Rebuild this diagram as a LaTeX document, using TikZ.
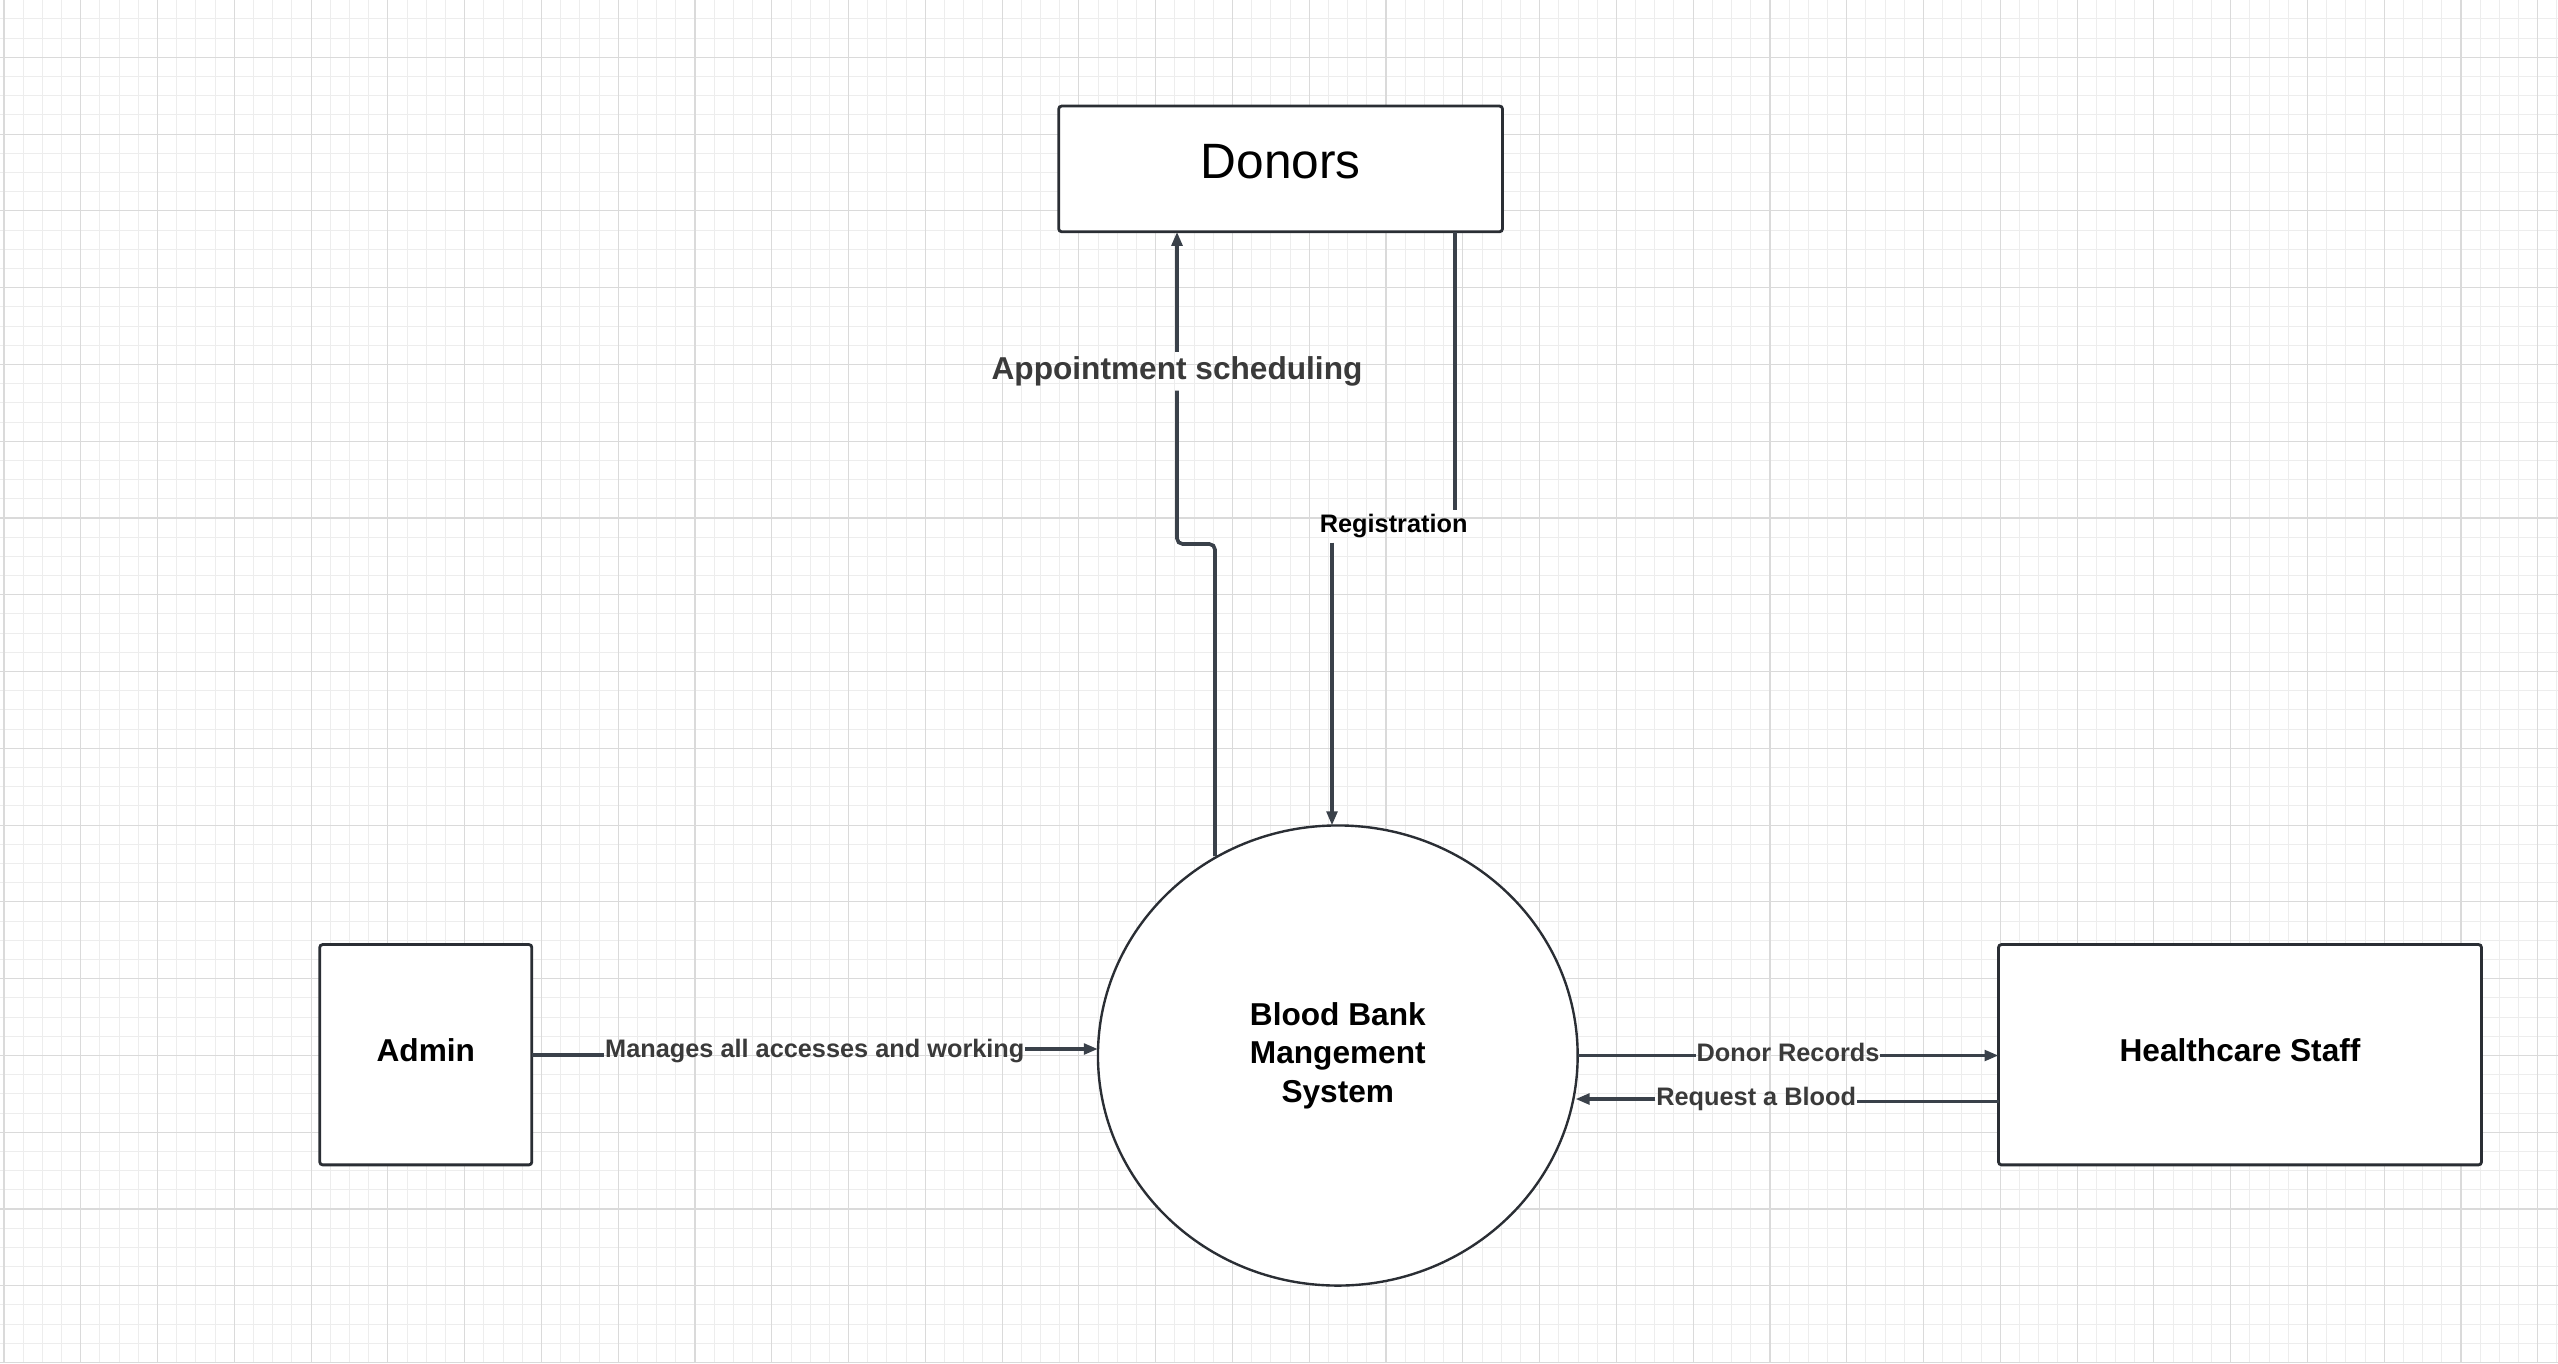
\documentclass[tikz,border=0pt]{standalone}
\usepackage{fontspec}
\setmainfont{Liberation Sans}
\usetikzlibrary{arrows.meta,shapes.geometric,calc}
\definecolor{gmaj}{RGB}{218,218,218}
\definecolor{gmin}{RGB}{237,237,237}
\definecolor{conncol}{RGB}{58,65,74}
\definecolor{bordcol}{RGB}{42,46,52}
\definecolor{lblcol}{RGB}{58,58,58}
\begin{document}
\begin{tikzpicture}[x=0.025cm,y=-0.025cm,
 gminor/.style={draw=gmin,line width=0.7pt},
 gmajor/.style={draw=gmaj,line width=0.8pt},
 boxnode/.style={draw=bordcol,line width=2pt,fill=white,rounded corners=2pt,inner sep=0pt,outer sep=0pt,align=center},
 bignode/.style={font=\bfseries\fontsize{22.5pt}{27.4pt}\selectfont},
 procnode/.style={ellipse,draw=bordcol,line width=1.7pt,fill=white,inner sep=0pt,outer sep=0pt,align=center,font=\bfseries\fontsize{22.5pt}{27.4pt}\selectfont},
 conn/.style={draw=conncol,line width=2.6pt},
 arr/.style={-{Triangle[length=10pt,width=7.5pt]}},
 flowlbl/.style={font=\bfseries\fontsize{18pt}{20pt}\selectfont,text=lblcol,inner xsep=0.5pt,inner ysep=3pt,anchor=base},
]
\useasboundingbox (0,0) rectangle (2558,1363);
\fill[white] (0,0) rectangle (2558,1363);
% grid
\foreach \k in {0,...,133} \draw[gminor] ({4+19.195*\k},0) -- ({4+19.195*\k},1363);
\foreach \k in {1,...,72} \draw[gminor] (0,{-19.5+19.195*\k}) -- (2558,{-19.5+19.195*\k});
\foreach \k in {0,...,33} \draw[gmajor] ({4+76.78*\k},0) -- ({4+76.78*\k},1363);
\foreach \k in {0,...,17} \draw[gmajor] (0,{57.28+76.78*\k}) -- (2558,{57.28+76.78*\k});

% nodes
\node[boxnode, minimum width=11.09cm, minimum height=3.14cm, font=\fontsize{35.3pt}{40pt}\selectfont, text height=13.5pt, text depth=0pt] (donors) at (1280.6,168.9) {Donors};
\node[boxnode, bignode, minimum width=5.3cm, minimum height=5.505cm, text height=10pt, text depth=0pt] (admin) at (425.8,1054.7) {Admin};
\node[boxnode, bignode, minimum width=12.07cm, minimum height=5.505cm, text height=10pt, text depth=0pt] (hc) at (2240,1054.7) {Healthcare Staff};
\node[procnode, minimum width=11.99cm, minimum height=11.5cm] (circ) at (1337.8,1055.5) {Blood Bank\\Mangement\\System};

% labels
\node[flowlbl, font=\bfseries\fontsize{22.5pt}{26pt}\selectfont] (lblA) at (1177,379.3) {Appointment scheduling};
\node[flowlbl, text=black] (lblR) at (1393.7,532.7) {Registration};
\node[flowlbl] (lblM) at (814.8,1057.7) {Manages all accesses and working};
\node[flowlbl] (lblD) at (1788,1061) {Donor Records};
\node[flowlbl] (lblQ) at (1756.2,1105) {Request a Blood};

% helper coordinates
\coordinate (jA1) at (1215,544);
\coordinate (jA2) at (1177,544);
\coordinate (rR) at (1455,0);
\coordinate (rL) at (1332,0);
\coordinate (mR) at (0,1049);
\coordinate (qR) at (0,1101.5);
\coordinate (qL) at (0,1099);

% connectors
\draw[conn, rounded corners=4pt] (jA1 |- circ.121.87) -- (jA1) -- (jA2) -- (lblA.south);
\draw[conn, arr] (lblA.north) -- (lblA.north |- donors.south);

\draw[conn] (rR |- donors.south) -- (rR |- lblR.north);
\draw[conn, arr] (rL |- lblR.south) -- (rL |- circ.north);

\draw[conn] (admin.east) -- (lblM.west |- admin.east);
\draw[conn, arr] (lblM.east |- mR) -- (circ.west |- mR);

\draw[conn] (circ.east) -- (lblD.west |- circ.east);
\draw[conn, arr] (lblD.east |- circ.east) -- (hc.west |- circ.east);

\draw[conn] (hc.west |- qR) -- (lblQ.east |- qR);
\draw[conn, arr] (lblQ.west |- qL) -- ($(circ.east |- qL)+(-2.2,0)$);
\end{tikzpicture}
\end{document}
